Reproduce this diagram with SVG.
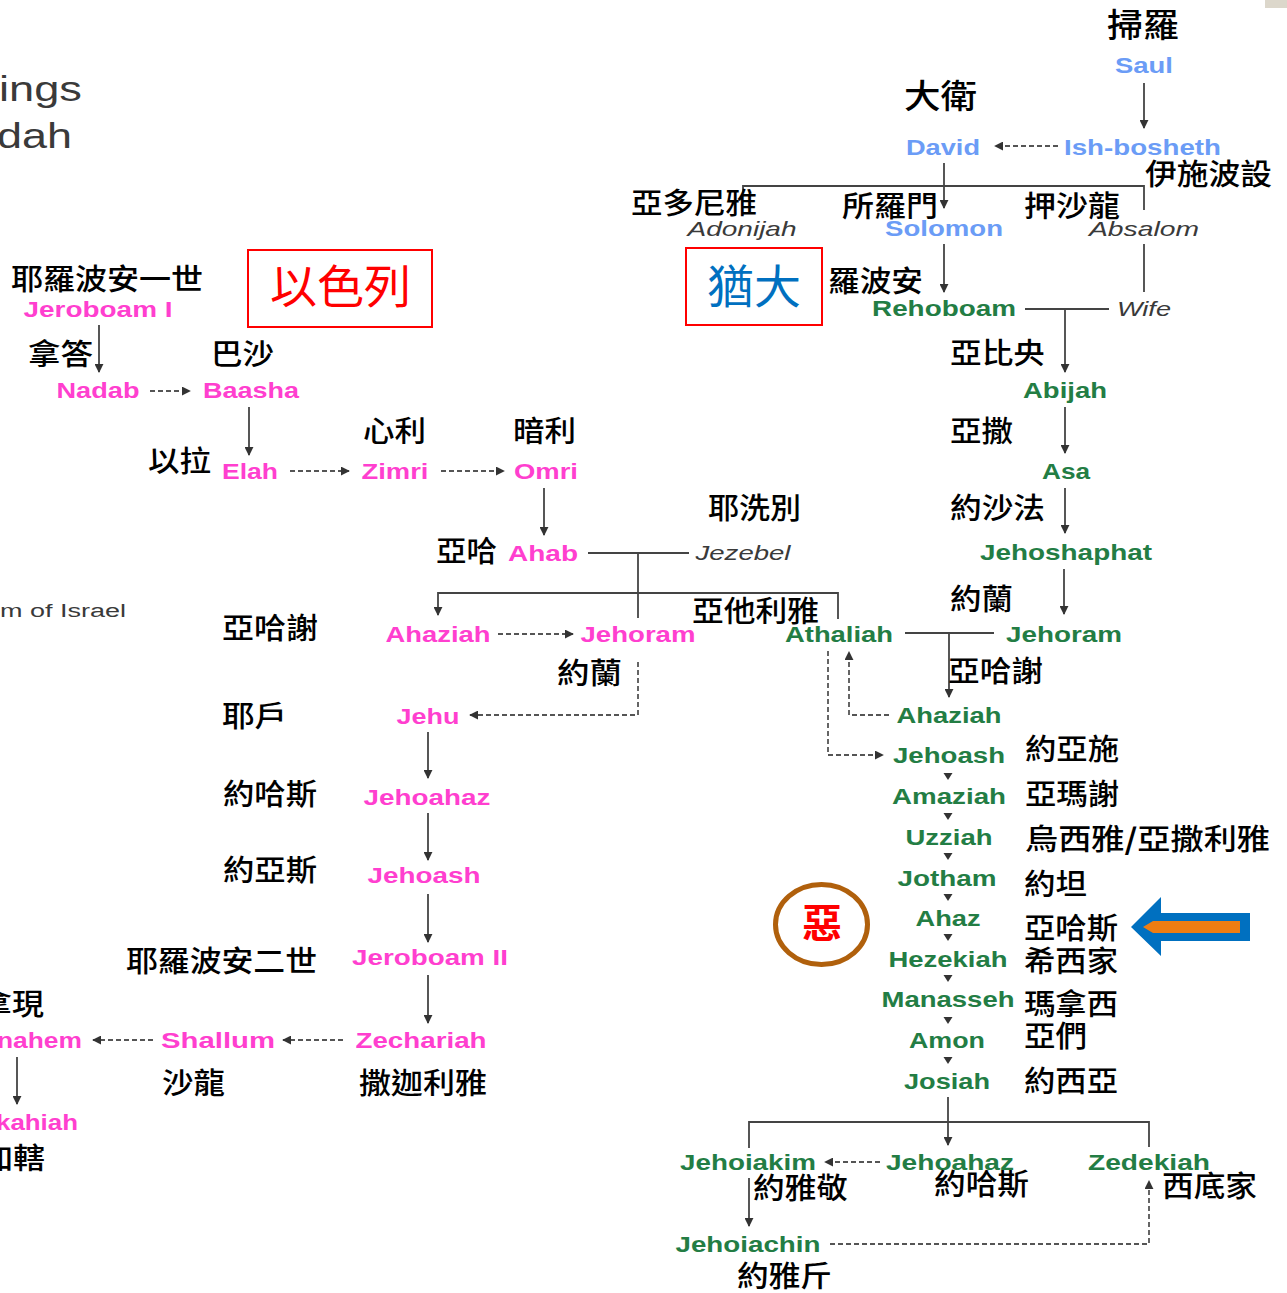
<svg xmlns="http://www.w3.org/2000/svg" width="1287" height="1293" viewBox="0 0 1287 1293">
<style>
.en{font-family:"Liberation Sans",Arial,sans-serif;font-weight:bold;font-size:21.5px;text-anchor:middle}
.it{font-family:"Liberation Sans",Arial,sans-serif;font-style:italic;font-size:21px;fill:#3a3a3a;text-anchor:middle}
.pk{fill:#ff3fcf}
.gr{fill:#237d44}
.bl{fill:#6b9cf6}
.zh{font-family:"Noto Sans CJK TC","Noto Sans CJK SC",sans-serif;font-size:29px;font-weight:500;fill:#000}
.zhb{font-family:"Noto Sans CJK TC","Noto Sans CJK SC",sans-serif;font-size:33px;font-weight:500;fill:#000}
.ti{font-family:"Liberation Sans",Arial,sans-serif;fill:#3a3a3a}
.ln{fill:none;stroke:#444;stroke-width:1.8}
.dash{fill:none;stroke:#555;stroke-width:1.8;stroke-dasharray:5 3}
.tri{fill:#333}
.box{fill:none;stroke:#ff0000;stroke-width:2}
</style>
<defs>
<marker id="ah" viewBox="0 0 10 10" refX="9" refY="5" markerWidth="9" markerHeight="9" markerUnits="userSpaceOnUse" orient="auto"><path d="M0,0 L10,5 L0,10 z" fill="#333"/></marker>
</defs>
<rect x="1265" y="0" width="22" height="8" fill="#dcd7cb"/>

<g id="title">
<text class="ti" x="-1" y="101" font-size="35" textLength="83" lengthAdjust="spacingAndGlyphs">ings</text>
<text class="ti" x="-3" y="148" font-size="35" textLength="75" lengthAdjust="spacingAndGlyphs">dah</text>
<text class="ti" x="0" y="617" font-size="18" textLength="126" lengthAdjust="spacingAndGlyphs">m of Israel</text>
</g>

<g id="connectors">
<path class="ln" d="M1144,83 V128" marker-end="url(#ah)"/>
<path class="dash" d="M1058,146 H995" marker-end="url(#ah)"/>
<path class="ln" d="M944,163 V208" marker-end="url(#ah)"/>
<path class="ln" d="M743,193 V186 H1144 V210"/>
<path class="ln" d="M944,244 V292" marker-end="url(#ah)"/>
<path class="ln" d="M1144,244 V292"/>
<path class="ln" d="M1025,309 H1109"/>
<path class="ln" d="M1065,309 V372" marker-end="url(#ah)"/>
<path class="ln" d="M1065,407 V453" marker-end="url(#ah)"/>
<path class="ln" d="M1065,488 V533" marker-end="url(#ah)"/>
<path class="ln" d="M1064,569 V614" marker-end="url(#ah)"/>
<path class="ln" d="M905,633 H994"/>
<path class="ln" d="M949,633 V697" marker-end="url(#ah)"/>
<path class="dash" d="M889,715 H849 V652" marker-end="url(#ah)"/>
<path class="dash" d="M828,651 V755 H883" marker-end="url(#ah)"/>
<polygon class="tri" points="943.5,773 952.5,773 948,780"/>
<polygon class="tri" points="943.5,813 952.5,813 948,820"/>
<polygon class="tri" points="943.5,853 952.5,853 948,860"/>
<polygon class="tri" points="943.5,894 952.5,894 948,901"/>
<polygon class="tri" points="943.5,934 952.5,934 948,941"/>
<polygon class="tri" points="943.5,975 952.5,975 948,982"/>
<polygon class="tri" points="943.5,1017 952.5,1017 948,1024"/>
<polygon class="tri" points="943.5,1057 952.5,1057 948,1064"/>
<path class="ln" d="M948,1097 V1145" marker-end="url(#ah)"/>
<path class="ln" d="M749,1148 V1122 H1149 V1147"/>
<path class="dash" d="M880,1162 H825" marker-end="url(#ah)"/>
<path class="ln" d="M749,1178 V1226" marker-end="url(#ah)"/>
<path class="dash" d="M830,1244 H1149 V1181" marker-end="url(#ah)"/>

<path class="ln" d="M99,325 V372" marker-end="url(#ah)"/>
<path class="dash" d="M150,391 H190" marker-end="url(#ah)"/>
<path class="ln" d="M249,407 V455" marker-end="url(#ah)"/>
<path class="dash" d="M290,471 H349" marker-end="url(#ah)"/>
<path class="dash" d="M441,471 H504" marker-end="url(#ah)"/>
<path class="ln" d="M544,488 V535" marker-end="url(#ah)"/>
<path class="ln" d="M588,553 H689"/>
<path class="ln" d="M638,553 V618"/>
<path class="ln" d="M838,619 V593 H438 V615" marker-end="url(#ah)"/>
<path class="dash" d="M498,634 H573" marker-end="url(#ah)"/>
<path class="dash" d="M638,662 V715 H470" marker-end="url(#ah)"/>
<path class="ln" d="M428,732 V778" marker-end="url(#ah)"/>
<path class="ln" d="M428,813 V860" marker-end="url(#ah)"/>
<path class="ln" d="M428,894 V942" marker-end="url(#ah)"/>
<path class="ln" d="M428,975 V1023" marker-end="url(#ah)"/>
<path class="dash" d="M343,1040 H283" marker-end="url(#ah)"/>
<path class="dash" d="M153,1040 H93" marker-end="url(#ah)"/>
<path class="ln" d="M17,1057 V1104" marker-end="url(#ah)"/>
</g>

<!-- Judah side -->
<g id="saul"><text class="zhb" x="1107" y="37" textLength="72" lengthAdjust="spacingAndGlyphs">掃羅</text><text class="en bl" x="1144" y="73" textLength="58" lengthAdjust="spacingAndGlyphs">Saul</text></g>
<g id="david"><text class="zhb" x="904" y="108" textLength="73" lengthAdjust="spacingAndGlyphs">大衛</text><text class="en bl" x="943" y="155" textLength="74" lengthAdjust="spacingAndGlyphs">David</text></g>
<g id="ishbosheth"><text class="en bl" x="1142.5" y="155" textLength="157" lengthAdjust="spacingAndGlyphs">Ish-bosheth</text><text class="zh" x="1145" y="185" textLength="127" lengthAdjust="spacingAndGlyphs">伊施波設</text></g>
<g id="adonijah"><text class="zh" x="631" y="214" textLength="126" lengthAdjust="spacingAndGlyphs">亞多尼雅</text><text class="it" x="742" y="236" textLength="109" lengthAdjust="spacingAndGlyphs">Adonijah</text></g>
<g id="solomon"><text class="zh" x="842" y="217" textLength="96" lengthAdjust="spacingAndGlyphs">所羅門</text><text class="en bl" x="944" y="236" textLength="118" lengthAdjust="spacingAndGlyphs">Solomon</text></g>
<g id="absalom"><text class="zh" x="1024" y="217" textLength="96" lengthAdjust="spacingAndGlyphs">押沙龍</text><text class="it" x="1144" y="236" textLength="110" lengthAdjust="spacingAndGlyphs">Absalom</text></g>
<g id="judah-label"><rect class="box" x="686" y="248" width="136" height="77"/><text x="707" y="303" font-family="Noto Sans CJK TC, Noto Sans CJK SC, sans-serif" font-size="46" fill="#0070c0" textLength="94" lengthAdjust="spacingAndGlyphs">猶大</text></g>
<g id="rehoboam"><text class="zh" x="828" y="292" textLength="95" lengthAdjust="spacingAndGlyphs">羅波安</text><text class="en gr" x="944" y="316" textLength="144" lengthAdjust="spacingAndGlyphs">Rehoboam</text></g>
<g id="wife"><text class="it" x="1144" y="316" textLength="54" lengthAdjust="spacingAndGlyphs">Wife</text></g>
<g id="abijah"><text class="zh" x="950" y="364" textLength="95" lengthAdjust="spacingAndGlyphs">亞比央</text><text class="en gr" x="1065" y="398" textLength="84" lengthAdjust="spacingAndGlyphs">Abijah</text></g>
<g id="asa"><text class="zh" x="950" y="442" textLength="63" lengthAdjust="spacingAndGlyphs">亞撒</text><text class="en gr" x="1066" y="479" textLength="48" lengthAdjust="spacingAndGlyphs">Asa</text></g>
<g id="jehoshaphat"><text class="zh" x="950" y="519" textLength="95" lengthAdjust="spacingAndGlyphs">約沙法</text><text class="en gr" x="1066" y="560" textLength="172" lengthAdjust="spacingAndGlyphs">Jehoshaphat</text></g>
<g id="jezebel"><text class="zh" x="708" y="519" textLength="93" lengthAdjust="spacingAndGlyphs">耶洗別</text><text class="it" x="743" y="560" textLength="95" lengthAdjust="spacingAndGlyphs">Jezebel</text></g>
<g id="jehoram-judah"><text class="zh" x="950" y="610" textLength="63" lengthAdjust="spacingAndGlyphs">約蘭</text><text class="en gr" x="1064" y="642" textLength="116" lengthAdjust="spacingAndGlyphs">Jehoram</text></g>
<g id="athaliah"><text class="zh" x="692" y="622" textLength="127" lengthAdjust="spacingAndGlyphs">亞他利雅</text><text class="en gr" x="839" y="642" textLength="108" lengthAdjust="spacingAndGlyphs">Athaliah</text></g>
<g id="ahaziah-judah"><text class="zh" x="948" y="682" textLength="95" lengthAdjust="spacingAndGlyphs">亞哈謝</text><text class="en gr" x="949" y="723" textLength="105" lengthAdjust="spacingAndGlyphs">Ahaziah</text></g>
<g id="jehoash-judah"><text class="en gr" x="949" y="763" textLength="112" lengthAdjust="spacingAndGlyphs">Jehoash</text><text class="zh" x="1025" y="760" textLength="94" lengthAdjust="spacingAndGlyphs">約亞施</text></g>
<g id="amaziah"><text class="en gr" x="949" y="804" textLength="114" lengthAdjust="spacingAndGlyphs">Amaziah</text><text class="zh" x="1025" y="805" textLength="94" lengthAdjust="spacingAndGlyphs">亞瑪謝</text></g>
<g id="uzziah"><text class="en gr" x="949" y="845" textLength="87" lengthAdjust="spacingAndGlyphs">Uzziah</text><text class="zh" x="1025" y="850" textLength="245" lengthAdjust="spacingAndGlyphs">烏西雅<tspan font-weight="bold">/</tspan>亞撒利雅</text></g>
<g id="jotham"><text class="en gr" x="947" y="886" textLength="99" lengthAdjust="spacingAndGlyphs">Jotham</text><text class="zh" x="1024" y="895" textLength="63" lengthAdjust="spacingAndGlyphs">約坦</text></g>
<g id="ahaz"><text class="en gr" x="948" y="926" textLength="65" lengthAdjust="spacingAndGlyphs">Ahaz</text><text class="zh" x="1024" y="939" textLength="94" lengthAdjust="spacingAndGlyphs">亞哈斯</text></g>
<g id="hezekiah"><text class="en gr" x="948" y="967" textLength="119" lengthAdjust="spacingAndGlyphs">Hezekiah</text><text class="zh" x="1024" y="972" textLength="94" lengthAdjust="spacingAndGlyphs">希西家</text></g>
<g id="manasseh"><text class="en gr" x="948" y="1007" textLength="133" lengthAdjust="spacingAndGlyphs">Manasseh</text><text class="zh" x="1024" y="1015" textLength="94" lengthAdjust="spacingAndGlyphs">瑪拿西</text></g>
<g id="amon"><text class="en gr" x="947" y="1048" textLength="76" lengthAdjust="spacingAndGlyphs">Amon</text><text class="zh" x="1024" y="1047" textLength="63" lengthAdjust="spacingAndGlyphs">亞們</text></g>
<g id="josiah"><text class="en gr" x="947" y="1089" textLength="86" lengthAdjust="spacingAndGlyphs">Josiah</text><text class="zh" x="1024" y="1092" textLength="94" lengthAdjust="spacingAndGlyphs">約西亞</text></g>
<g id="jehoiakim"><text class="en gr" x="748" y="1170" textLength="136" lengthAdjust="spacingAndGlyphs">Jehoiakim</text><text class="zh" x="753" y="1199" textLength="95" lengthAdjust="spacingAndGlyphs">約雅敬</text></g>
<g id="jehoahaz-judah"><text class="en gr" x="950" y="1170" textLength="128" lengthAdjust="spacingAndGlyphs">Jehoahaz</text><text class="zh" x="934" y="1195" textLength="95" lengthAdjust="spacingAndGlyphs">約哈斯</text></g>
<g id="zedekiah"><text class="en gr" x="1149" y="1170" textLength="122" lengthAdjust="spacingAndGlyphs">Zedekiah</text><text class="zh" x="1162" y="1197" textLength="95" lengthAdjust="spacingAndGlyphs">西底家</text></g>
<g id="jehoiachin"><text class="en gr" x="748" y="1252" textLength="145" lengthAdjust="spacingAndGlyphs">Jehoiachin</text><text class="zh" x="737" y="1287" textLength="95" lengthAdjust="spacingAndGlyphs">約雅斤</text></g>
<g id="evil"><ellipse cx="821.5" cy="924.5" rx="46" ry="40" fill="none" stroke="#b0600c" stroke-width="5"/><text x="802" y="938" font-family="Noto Sans CJK TC, Noto Sans CJK SC, sans-serif" font-size="40" font-weight="bold" fill="#ff0000" textLength="40" lengthAdjust="spacingAndGlyphs">惡</text></g>
<g id="pointer"><polygon points="1131,927 1161,897 1161,913 1250,913 1250,941 1161,941 1161,956" fill="#0070c0"/><polygon points="1143,927 1153,921 1240,921 1240,933 1153,933" fill="#ee7d12"/></g>

<!-- Israel side -->
<g id="israel-label"><rect class="box" x="248" y="250" width="184" height="77"/><text x="270" y="303" font-family="Noto Sans CJK TC, Noto Sans CJK SC, sans-serif" font-size="46" fill="#ff0000" textLength="141" lengthAdjust="spacingAndGlyphs">以色列</text></g>
<g id="jeroboam1"><text class="zh" x="11" y="290" textLength="192" lengthAdjust="spacingAndGlyphs">耶羅波安一世</text><text class="en pk" x="98" y="317" textLength="149" lengthAdjust="spacingAndGlyphs">Jeroboam I</text></g>
<g id="nadab"><text class="zh" x="28" y="365" textLength="65" lengthAdjust="spacingAndGlyphs">拿答</text><text class="en pk" x="98" y="398" textLength="83" lengthAdjust="spacingAndGlyphs">Nadab</text></g>
<g id="baasha"><text class="zh" x="211" y="365" textLength="63" lengthAdjust="spacingAndGlyphs">巴沙</text><text class="en pk" x="251" y="398" textLength="96" lengthAdjust="spacingAndGlyphs">Baasha</text></g>
<g id="elah"><text class="zh" x="148" y="472" textLength="63" lengthAdjust="spacingAndGlyphs">以拉</text><text class="en pk" x="250" y="479" textLength="56" lengthAdjust="spacingAndGlyphs">Elah</text></g>
<g id="zimri"><text class="zh" x="363" y="442" textLength="63" lengthAdjust="spacingAndGlyphs">心利</text><text class="en pk" x="395" y="479" textLength="67" lengthAdjust="spacingAndGlyphs">Zimri</text></g>
<g id="omri"><text class="zh" x="513" y="442" textLength="63" lengthAdjust="spacingAndGlyphs">暗利</text><text class="en pk" x="546" y="479" textLength="64" lengthAdjust="spacingAndGlyphs">Omri</text></g>
<g id="ahab"><text class="zh" x="436" y="562" textLength="61" lengthAdjust="spacingAndGlyphs">亞哈</text><text class="en pk" x="543" y="561" textLength="70" lengthAdjust="spacingAndGlyphs">Ahab</text></g>
<g id="ahaziah-israel"><text class="zh" x="222" y="639" textLength="96" lengthAdjust="spacingAndGlyphs">亞哈謝</text><text class="en pk" x="438" y="642" textLength="105" lengthAdjust="spacingAndGlyphs">Ahaziah</text></g>
<g id="jehoram-israel"><text class="en pk" x="638" y="642" textLength="115" lengthAdjust="spacingAndGlyphs">Jehoram</text><text class="zh" x="557" y="684" textLength="65" lengthAdjust="spacingAndGlyphs">約蘭</text></g>
<g id="jehu"><text class="zh" x="222" y="727" textLength="65" lengthAdjust="spacingAndGlyphs">耶戶</text><text class="en pk" x="428" y="724" textLength="63" lengthAdjust="spacingAndGlyphs">Jehu</text></g>
<g id="jehoahaz-israel"><text class="zh" x="223" y="805" textLength="94" lengthAdjust="spacingAndGlyphs">約哈斯</text><text class="en pk" x="427" y="805" textLength="127" lengthAdjust="spacingAndGlyphs">Jehoahaz</text></g>
<g id="jehoash-israel"><text class="zh" x="223" y="881" textLength="94" lengthAdjust="spacingAndGlyphs">約亞斯</text><text class="en pk" x="424" y="883" textLength="113" lengthAdjust="spacingAndGlyphs">Jehoash</text></g>
<g id="jeroboam2"><text class="zh" x="126" y="972" textLength="191" lengthAdjust="spacingAndGlyphs">耶羅波安二世</text><text class="en pk" x="430" y="965" textLength="156" lengthAdjust="spacingAndGlyphs">Jeroboam II</text></g>
<g id="zechariah"><text class="en pk" x="421" y="1048" textLength="131" lengthAdjust="spacingAndGlyphs">Zechariah</text><text class="zh" x="359" y="1094" textLength="128" lengthAdjust="spacingAndGlyphs">撒迦利雅</text></g>
<g id="shallum"><text class="en pk" x="218" y="1048" textLength="114" lengthAdjust="spacingAndGlyphs">Shallum</text><text class="zh" x="162" y="1094" textLength="63" lengthAdjust="spacingAndGlyphs">沙龍</text></g>
<g id="menahem"><text class="zh" x="-20" y="1015" textLength="64" lengthAdjust="spacingAndGlyphs">拿現</text><text class="en pk" x="-3" y="1048" style="text-anchor:start" textLength="85" lengthAdjust="spacingAndGlyphs">nahem</text></g>
<g id="pekahiah"><text class="en pk" x="-4" y="1130" style="text-anchor:start" textLength="82" lengthAdjust="spacingAndGlyphs">kahiah</text><text class="zh" x="-19" y="1169" textLength="64" lengthAdjust="spacingAndGlyphs">加轄</text></g>
</svg>
